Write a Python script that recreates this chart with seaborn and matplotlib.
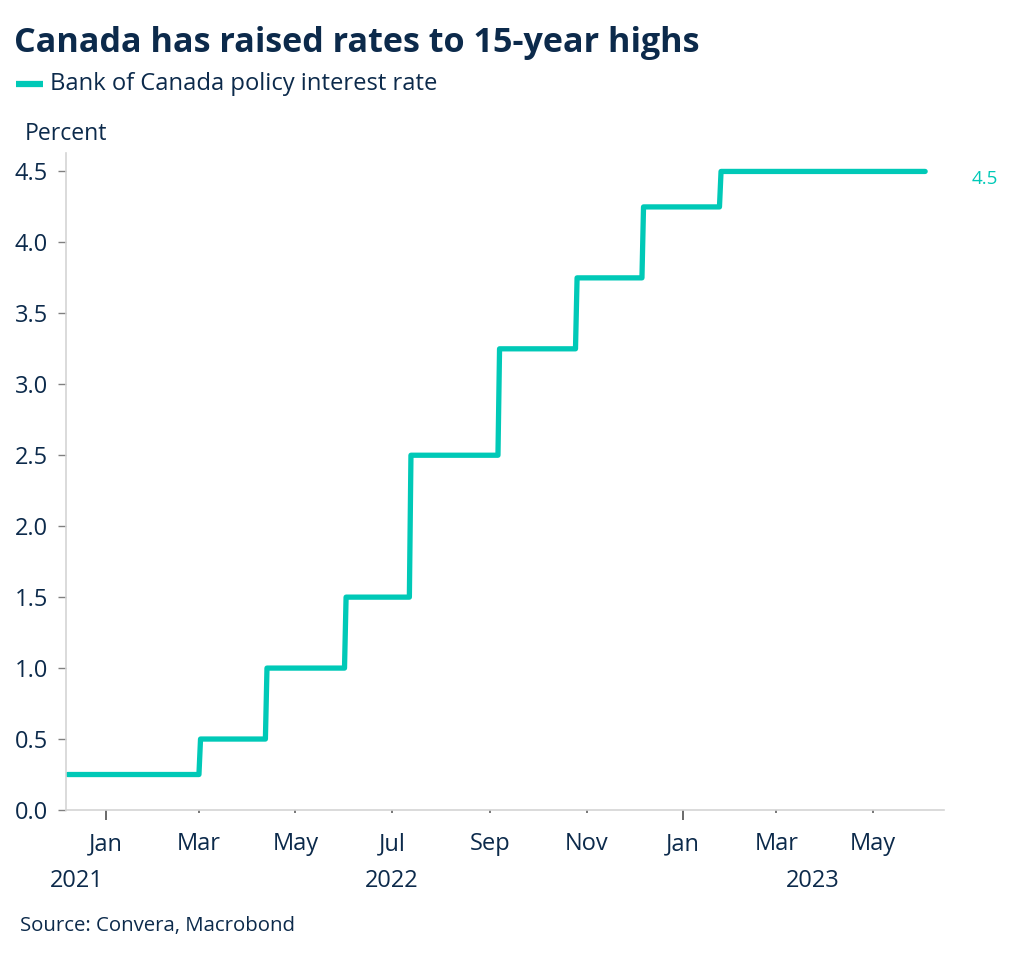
import pandas as pd
import matplotlib.pyplot as plt
import matplotlib.dates as mdates
import matplotlib.transforms as mtransforms
import seaborn as sns

# Bank of Canada policy rate: dates where the rate changes
change_dates = ['2021-12-08', '2022-03-02', '2022-04-13', '2022-06-02', '2022-07-13',
                '2022-09-07', '2022-10-26', '2022-12-07', '2023-01-25']
policy_rates = [0.25, 0.5, 1.0, 1.5, 2.5, 3.25, 3.75, 4.25, 4.5]
end_date = '2023-06-03'

month_ticks = ['2022-01-01', '2022-03-01', '2022-05-01', '2022-07-01', '2022-09-01',
               '2022-11-01', '2023-01-01', '2023-03-01', '2023-05-01']
month_labels = ['Jan', 'Mar', 'May', 'Jul', 'Sep', 'Nov', 'Jan', 'Mar', 'May']
year_labels = ['2021', '2022', '2023']
year_label_dates = ['2021-12-14', '2022-07-01', '2023-03-24']
y_ticks = [0.0, 0.5, 1.0, 1.5, 2.0, 2.5, 3.0, 3.5, 4.0, 4.5]

# daily series (step function held between decisions)
s = pd.Series(policy_rates, index=pd.to_datetime(change_dates))
s = s.reindex(pd.date_range(change_dates[0], end_date, freq='D')).ffill()
df = s.rename_axis('date').reset_index(name='rate')

teal = '#00C9B7'
navy = '#0C2A4B'

sns.set_theme(style='white')
plt.rcParams['font.family'] = ['Open Sans', 'DejaVu Sans']

fig = plt.figure(figsize=(10.24, 9.58), dpi=100)
ax = fig.add_axes([0.0645, 0.1545, 0.8575, 0.6858])

sns.lineplot(data=df, x='date', y='rate', color=teal, linewidth=3.8, ax=ax)
ax.lines[0].set_solid_joinstyle('round')

ax.set_xlim(pd.Timestamp('2021-12-07'), pd.Timestamp('2023-06-15'))
ax.set_ylim(0, 4.63)
ax.set_yticks(y_ticks)
ax.set_yticklabels([f'{v:.1f}' for v in y_ticks])
ax.set_xticks(pd.to_datetime(month_ticks))
ax.set_xticklabels(month_labels)
ax.set_xlabel('')
ax.set_ylabel('')

for side in ['top', 'right']:
    ax.spines[side].set_visible(False)
for side in ['left', 'bottom']:
    ax.spines[side].set_color('#D4D4D4')
    ax.spines[side].set_linewidth(1.2)

ax.tick_params(axis='y', length=6, width=1, color='#808080', labelsize=17,
               labelcolor=navy, pad=7, left=True)
ax.tick_params(axis='x', length=2.5, width=1.2, color='#606060', labelsize=17,
               labelcolor=navy, pad=13.5, bottom=True)
for t, lab in zip(ax.xaxis.get_major_ticks(), month_labels):
    if lab == 'Jan':
        t.tick1line.set_markersize(7)
        t.tick1line.set_markeredgecolor('#505050')

# year labels under the months
xtrans = mtransforms.blended_transform_factory(ax.transData, fig.transFigure)
for lab, d in zip(year_labels, year_label_dates):
    ax.text(mdates.date2num(pd.Timestamp(d)), 1 - 881 / 958, lab, transform=xtrans,
            ha='center', va='center', fontsize=17, color=navy)

# end value label
ytrans = mtransforms.blended_transform_factory(ax.transAxes, ax.transData)
ax.text(1.0467, 4.45, '4.5', transform=ytrans, ha='center', va='center',
        fontsize=13.5, color=teal)

# titles, legend, notes
fig.text(14 / 1024, 1 - 43 / 958, 'Canada has raised rates to 15-year highs',
         fontsize=24.6, fontweight='bold', color=navy, ha='left', va='center')
fig.add_artist(plt.Line2D([16 / 1024, 43 / 1024], [1 - 84 / 958, 1 - 84 / 958],
                          color=teal, linewidth=4.5, solid_capstyle='butt'))
fig.text(50 / 1024, 1 - 84 / 958, 'Bank of Canada policy interest rate',
         fontsize=17.1, color=navy, ha='left', va='center')
fig.text(25 / 1024, 1 - 134 / 958, 'Percent', fontsize=16.6, color=navy,
         ha='left', va='center')
fig.text(20 / 1024, 1 - 926 / 958, 'Source: Convera, Macrobond', fontsize=14.7,
         color=navy, ha='left', va='center')

plt.savefig('out.png', dpi=100)
